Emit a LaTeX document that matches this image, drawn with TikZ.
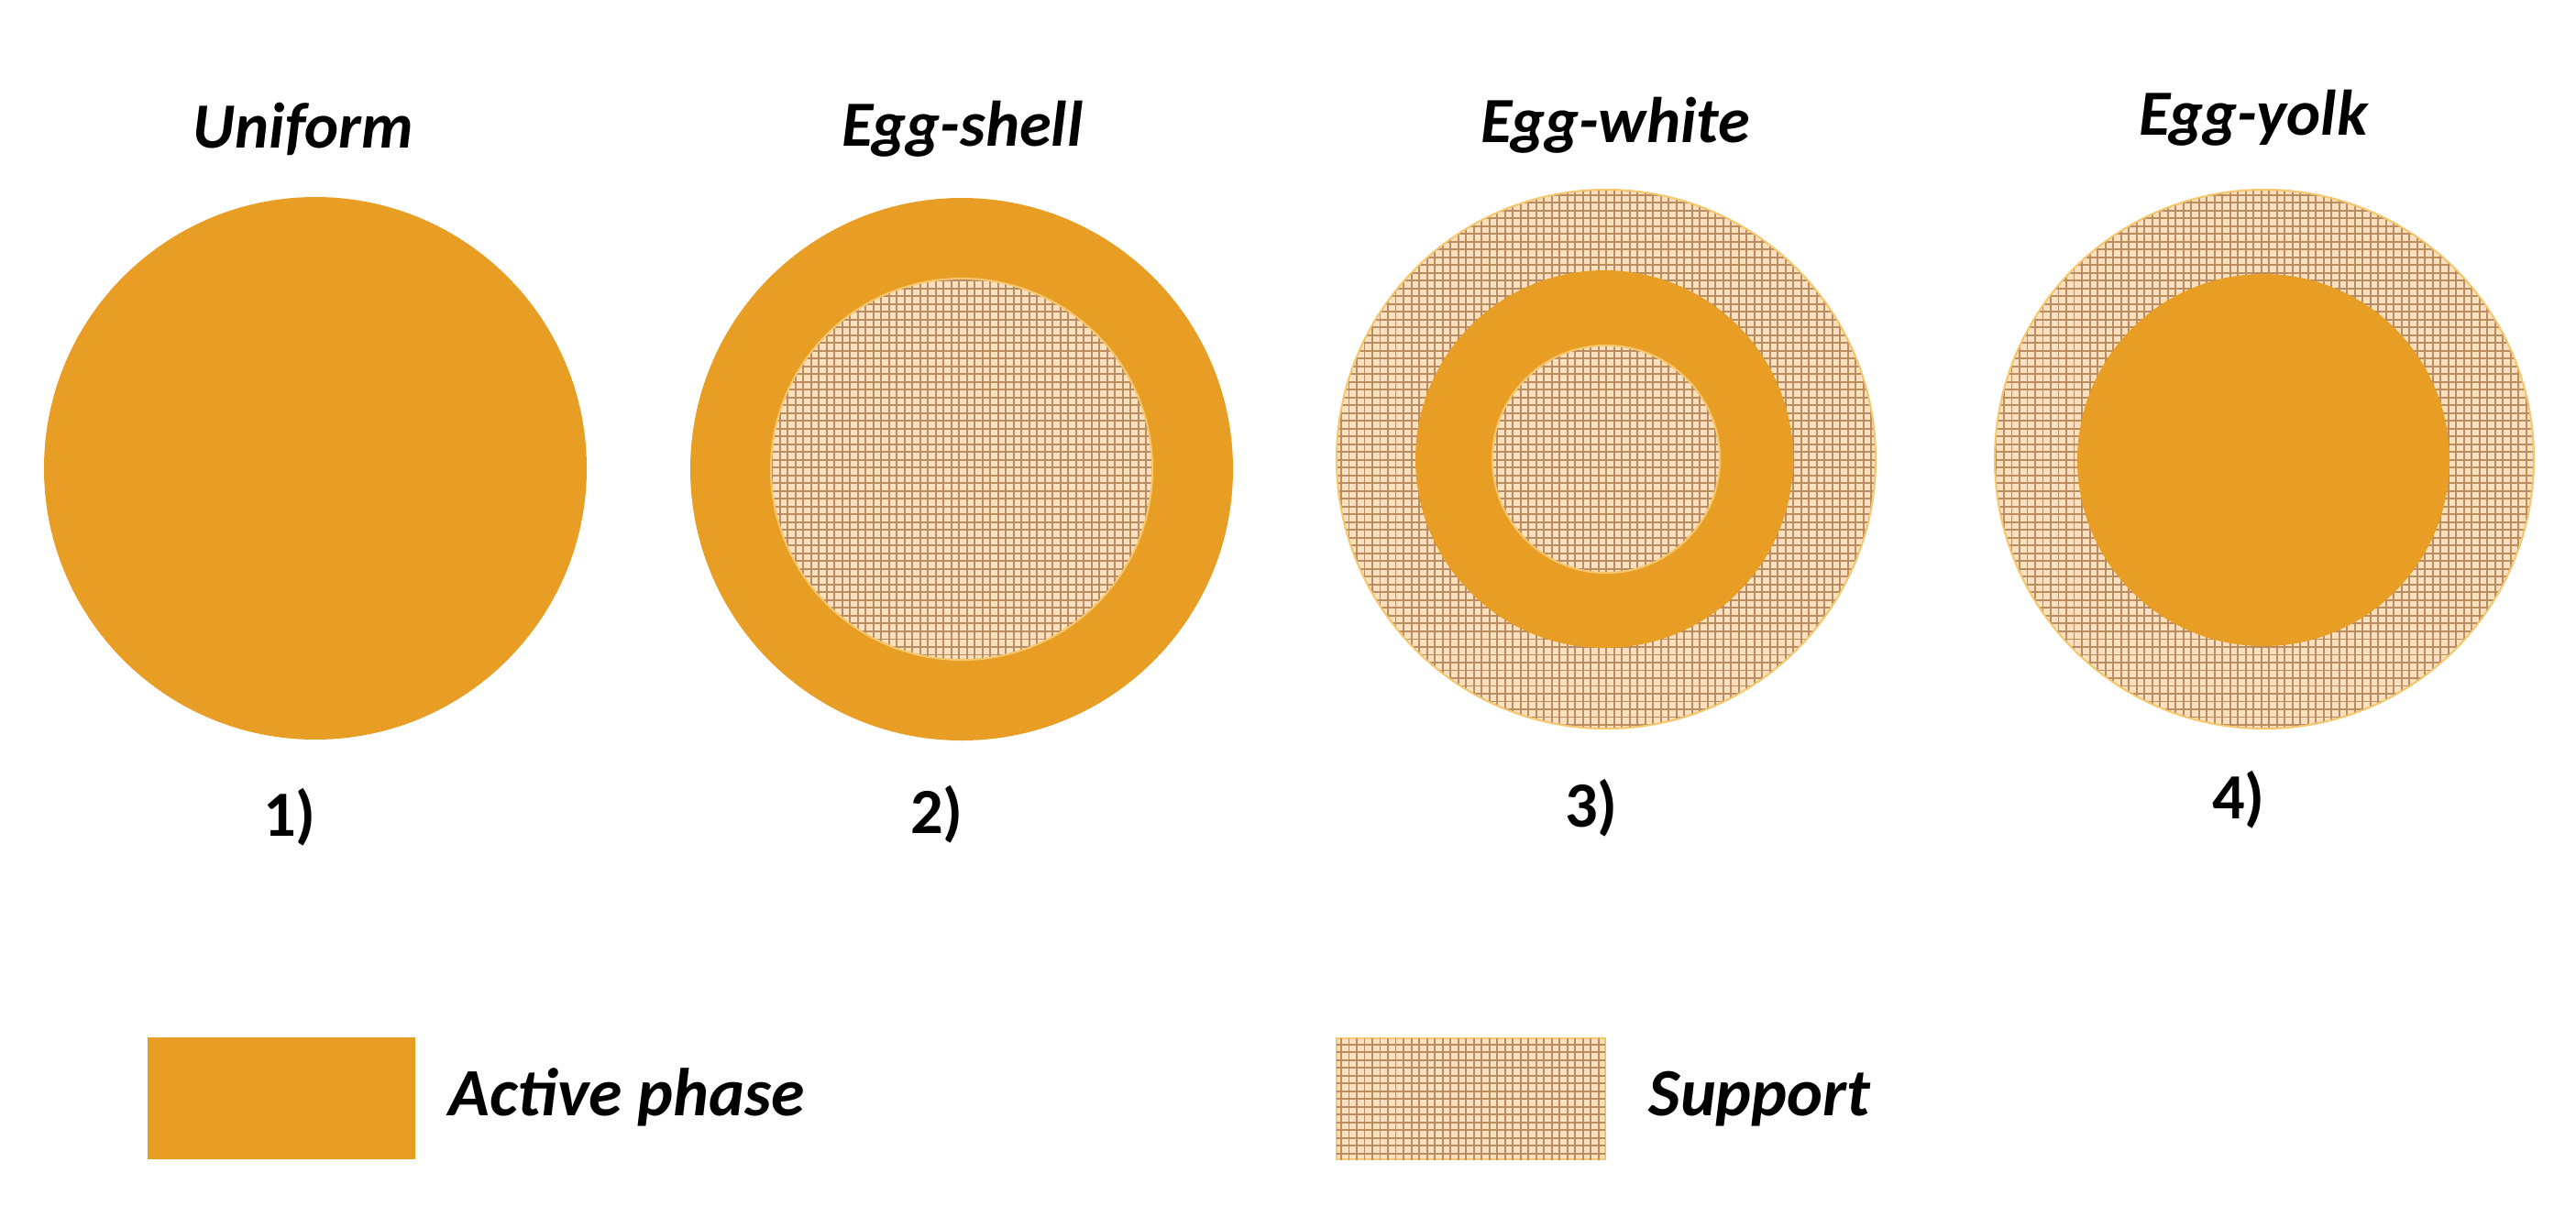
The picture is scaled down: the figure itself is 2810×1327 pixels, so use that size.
\documentclass[tikz,border=0pt]{standalone}
\usepackage{fontspec}
\setmainfont{Carlito}
\definecolor{active}{RGB}{232,158,36}
\definecolor{peach}{RGB}{250,224,190}
\definecolor{gridline}{RGB}{186,140,96}
\definecolor{rimcol}{RGB}{245,200,110}
\begin{document}
\begin{tikzpicture}[x=0.01cm,y=-0.01cm,
  title/.style={font=\fontsize{20}{24}\selectfont\bfseries\itshape,anchor=base,inner sep=0pt},
  numlab/.style={font=\fontsize{20}{24}\selectfont\bfseries,anchor=base,inner sep=0pt},
  legtext/.style={font=\fontsize{21}{25}\selectfont\bfseries\itshape,anchor=base west,inner sep=0pt},
  activefill/.style={fill=active,draw=none},
  supportfill/.style={fill=peach,draw=rimcol,line width=0.6pt},
  gridlines/.style={draw=gridline,line width=0.55pt}]
\useasboundingbox (0,0) rectangle (2810,1327);
\fill[white] (0,0) rectangle (2810,1327);
% 1) uniform
\fill[activefill] (344,511) circle (296);
% 2) egg-shell
\fill[activefill] (1049,512) circle (296);
\filldraw[supportfill] (1049,512) circle (208);
\begin{scope}
  \clip (1049,512) circle (207);
  \draw[gridlines,step=0.085cm] (830,290) grid (1270,730);
\end{scope}
% 3) egg-white
\filldraw[supportfill] (1752,501) circle (294);
\begin{scope}
  \clip (1752,501) circle (293);
  \draw[gridlines,step=0.085cm] (1450,200) grid (2050,805);
\end{scope}
\fill[activefill] (1750,501) circle (206);
\filldraw[supportfill] (1752,501) circle (124);
\begin{scope}
  \clip (1752,501) circle (123);
  \draw[gridlines,step=0.085cm] (1620,370) grid (1880,630);
\end{scope}
% 4) egg-yolk
\filldraw[supportfill] (2470,501) circle (294);
\begin{scope}
  \clip (2470,501) circle (293);
  \draw[gridlines,step=0.085cm] (2170,200) grid (2770,805);
\end{scope}
\fill[activefill] (2469,502) circle (203);
% titles
\node[title] (t1) at (331,161) {Uniform};
\node[title] (t2) at (1050,159) {Egg-shell};
\node[title] (t3) at (1762,155) {Egg-white};
\node[title] (t4) at (2458,147) {Egg-yolk};
% numbers
\node[numlab] (n1) at (316,912) {1)};
\node[numlab] (n2) at (1022,909) {2)};
\node[numlab] (n3) at (1736,902) {3)};
\node[numlab] (n4) at (2442,893) {4)};
% legend
\fill[activefill] (161,1132) rectangle (453,1265);
\node[legtext] (la) at (489,1217) {Active phase};
\filldraw[supportfill] (1458,1133) rectangle (1751,1265);
\begin{scope}
  \clip (1458,1133) rectangle (1751,1265);
  \draw[gridlines,step=0.085cm] (1450,1120) grid (1760,1275);
\end{scope}
\node[legtext] (ls) at (1798,1217) {Support};
\end{tikzpicture}
\end{document}
